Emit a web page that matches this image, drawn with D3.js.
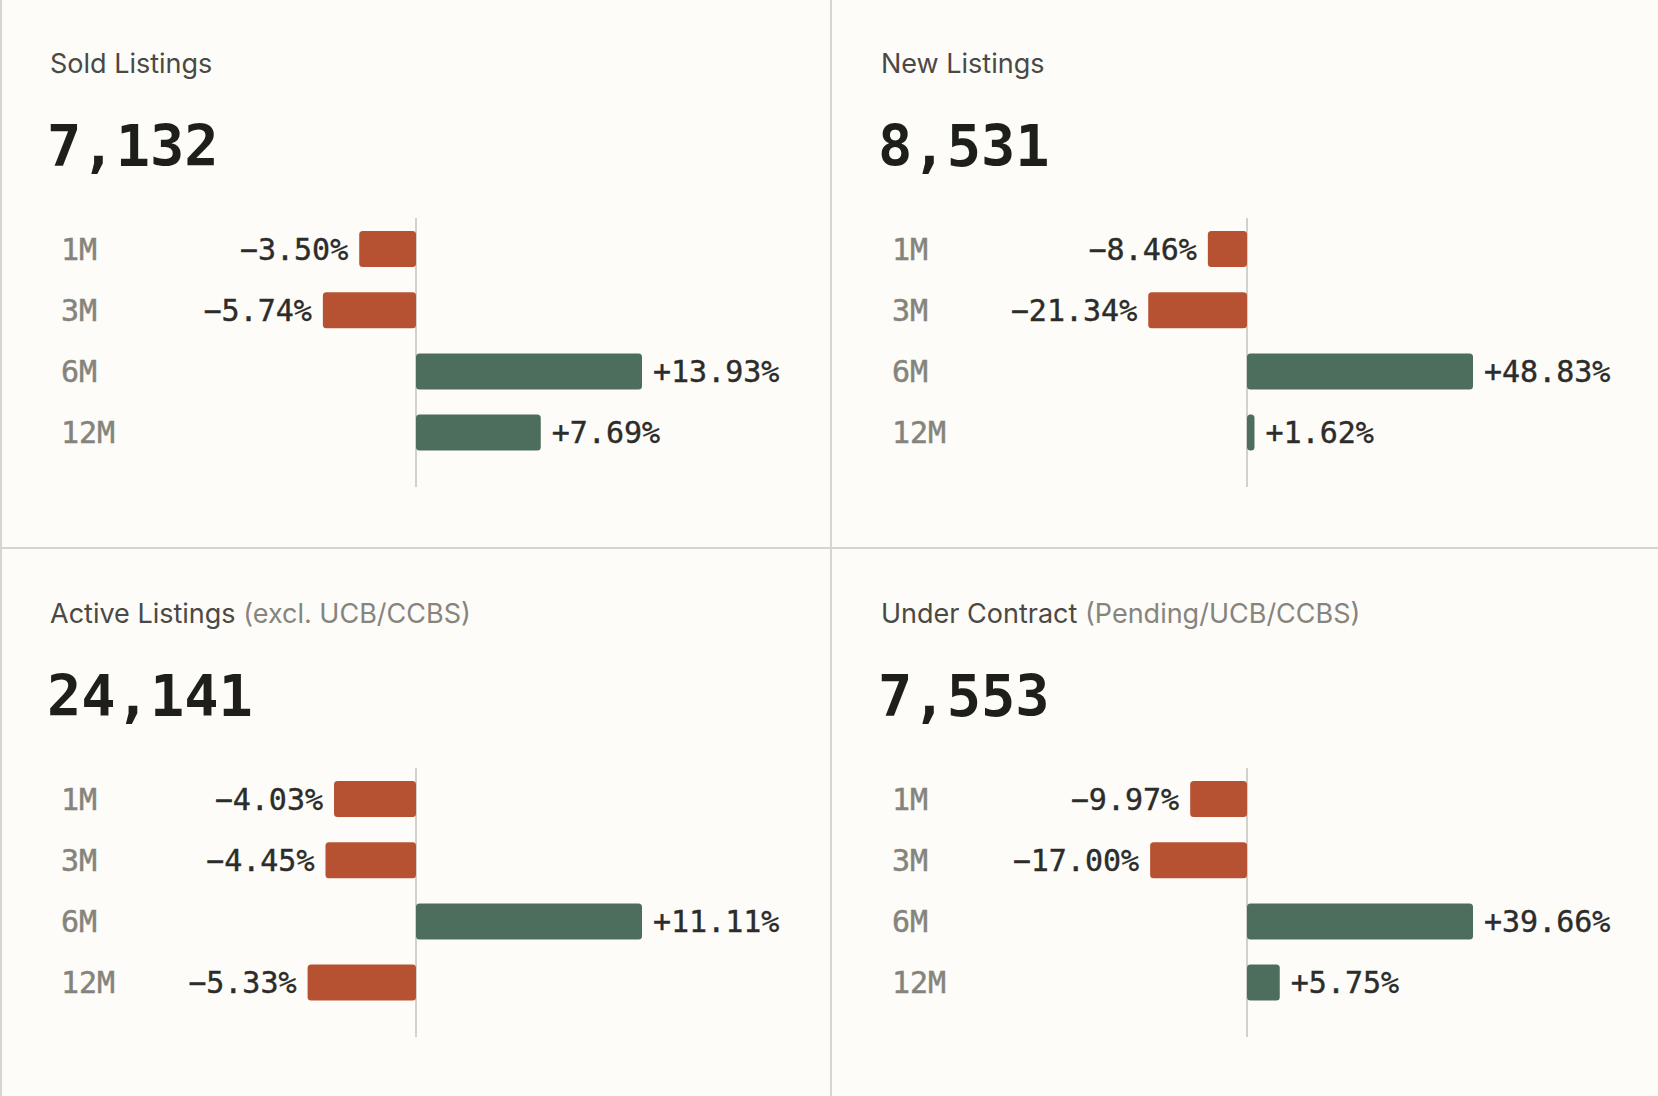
<!DOCTYPE html>
<html>
<head>
<meta charset="utf-8">
<script src="https://cdn.jsdelivr.net/npm/d3@7"></script>
<style>
  html, body { margin: 0; padding: 0; background: #fdfcf8; }
  svg { display: block; }
</style>
</head>
<body>
<div id="chart"></div>
<script>
// data
const periods = ["1M", "3M", "6M", "12M"];
const titles = ["Sold Listings", "New Listings", "Active Listings", "Under Contract"];
const subtitles = ["", "", "(excl. UCB/CCBS)", "(Pending/UCB/CCBS)"];
const totals = [7132, 8531, 24141, 7553];
const soldChanges = [-3.50, -5.74, 13.93, 7.69];
const newChanges = [-8.46, -21.34, 48.83, 1.62];
const activeChanges = [-4.03, -4.45, 11.11, -5.33];
const contractChanges = [-9.97, -17.00, 39.66, 5.75];

const allChanges = [soldChanges, newChanges, activeChanges, contractChanges];

const width = 1658, height = 1096;
const panelW = 831, panelH = 548;
const mono = "'DejaVu Sans Mono', 'Liberation Mono', monospace";
const sans = "Inter, 'Noto Sans', sans-serif";

const svg = d3.select("#chart")
    .append("svg")
    .attr("width", width)
    .attr("height", height);

svg.append("rect")
    .attr("width", width)
    .attr("height", height)
    .attr("fill", "#fdfcf8");

// grid lines between the cards
svg.append("line")
    .attr("x1", 1).attr("x2", 1).attr("y1", 0).attr("y2", height)
    .attr("stroke", "#d6d5cf").attr("stroke-width", 2);
svg.append("line")
    .attr("x1", panelW).attr("x2", panelW).attr("y1", 0).attr("y2", height)
    .attr("stroke", "#d6d5cf").attr("stroke-width", 2);
svg.append("line")
    .attr("x1", 0).attr("x2", width).attr("y1", panelH).attr("y2", panelH)
    .attr("stroke", "#d6d5cf").attr("stroke-width", 2);

const fmtPct = d => d3.format("+.2f")(d) + "%";
const fmtTotal = d3.format(",");

titles.forEach((title, i) => {
    const x0 = (i % 2) * panelW;
    const y0 = Math.floor(i / 2) * panelH + (i >= 2 ? 2 : 0);
    const values = allChanges[i].map((v, k) => ({period: periods[k], value: v}));
    const g = svg.append("g").attr("transform", `translate(${x0},${y0})`);

    // title
    const t = g.append("text")
        .attr("x", 50)
        .attr("y", 73)
        .style("font-family", sans)
        .style("font-size", "27px")
        .style("fill", "#4a4945")
        .text(title);
    if (subtitles[i]) {
        t.append("tspan")
            .style("fill", "#86847c")
            .text(" " + subtitles[i]);
    }

    // big number
    g.append("text")
        .attr("x", 47)
        .attr("y", 166)
        .style("font-family", mono)
        .style("font-weight", "bold")
        .style("font-size", "57px")
        .style("fill", "#1e1e1b")
        .text(fmtTotal(totals[i]));

    const maxAbs = d3.max(values, d => Math.abs(d.value));
    const cx = 416;
    const x = d3.scaleLinear()
        .domain([-maxAbs, maxAbs])
        .range([cx - 226, cx + 226]);

    const y = d3.scalePoint()
        .domain(periods)
        .range([249, 249 + 3 * 61.2]);

    const barH = 36;

    // zero line
    g.append("line")
        .attr("x1", x(0)).attr("x2", x(0))
        .attr("y1", 218).attr("y2", 487)
        .attr("stroke", "#d2d1cc")
        .attr("stroke-width", 2);

    const rows = g.selectAll(".row")
        .data(values)
        .enter()
        .append("g")
        .attr("class", "row");

    rows.append("rect")
        .attr("x", d => Math.min(x(0), x(d.value)))
        .attr("y", d => y(d.period) - barH / 2)
        .attr("width", d => Math.abs(x(d.value) - x(0)))
        .attr("height", barH)
        .attr("rx", 3.5)
        .attr("fill", d => d.value < 0 ? "#b65231" : "#4d6e5d");

    // period labels
    rows.append("text")
        .attr("x", 61)
        .attr("y", d => y(d.period))
        .attr("dy", "0.36em")
        .style("font-family", mono)
        .style("font-size", "30px")
        .style("fill", "#85847c")
        .style("stroke", "#85847c")
        .style("stroke-width", 0.5)
        .text(d => d.period);

    // value labels
    rows.append("text")
        .attr("x", d => d.value < 0 ? x(d.value) - 11 : x(d.value) + 11)
        .attr("y", d => y(d.period))
        .attr("dy", "0.36em")
        .attr("text-anchor", d => d.value < 0 ? "end" : "start")
        .style("font-family", mono)
        .style("font-size", "30px")
        .style("fill", "#2c2c2a")
        .style("stroke", "#2c2c2a")
        .style("stroke-width", 0.4)
        .text(d => fmtPct(d.value));
});
</script>
</body>
</html>
